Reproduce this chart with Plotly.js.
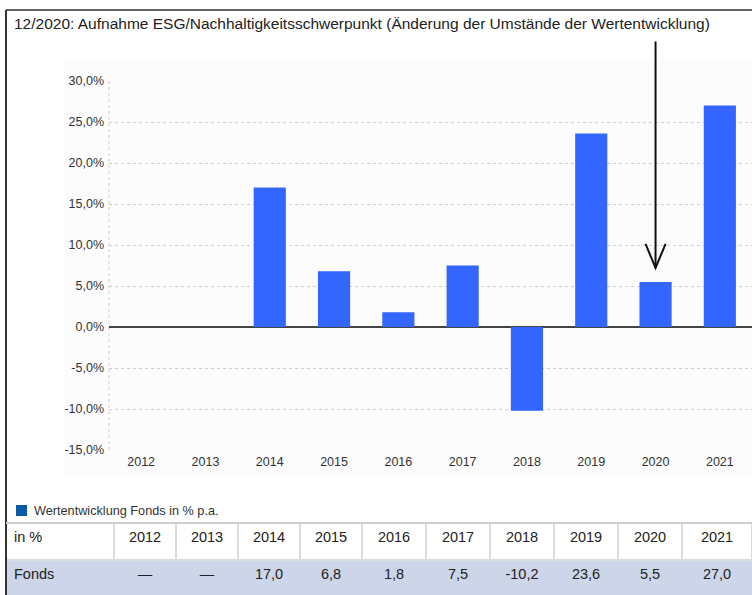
<!DOCTYPE html>
<html>
<head>
<meta charset="utf-8">
<script src="https://cdn.plot.ly/plotly-3.0.1.min.js"></script>
<style>html,body{margin:0;padding:0;background:#fff;}#chart{width:752px;height:595px;}</style>
</head>
<body>
<div id="chart"></div>
<script>
// ---- data ----
const years = ['2012','2013','2014','2015','2016','2017','2018','2019','2020','2021'];
const fonds = [null, null, 17.0, 6.8, 1.8, 7.5, -10.2, 23.6, 5.5, 27.0];
const yTickVals = [-15, -10, -5, 0, 5, 10, 15, 20, 25, 30];
const yTickText = ['-15,0%','-10,0%','-5,0%','0,0%','5,0%','10,0%','15,0%','20,0%','25,0%','30,0%'];
const titleText = '12/2020: Aufnahme ESG/Nachhaltigkeitsschwerpunkt (Änderung der Umstände der Wertentwicklung)';
const legendText = 'Wertentwicklung Fonds in % p.a.';
const tableHeadLabel = 'in %';
const tableRowLabel = 'Fonds';
const markerYear = '2020';
const markerTipValue = 7.2;

const W = 752, H = 595;
const px = v => v / W;
const py = v => 1 - v / H;
const FONT = 'Liberation Sans, Arial, sans-serif';

const fmt = v => v === null ? '—' : v.toFixed(1).replace('.', ',');

const barTrace = {
  type: 'bar',
  x: years,
  y: fonds,
  width: 0.5,
  marker: {color: '#3366ff'},
  hoverinfo: 'skip',
  showlegend: false,
  xaxis: 'x', yaxis: 'y'
};

const tableTrace = {
  type: 'table',
  domain: {x: [px(6), 1], y: [0, py(523)]},
  columnwidth: [108, 62, 62, 62, 62, 64, 64, 64, 64, 64, 70],
  header: {
    values: [tableHeadLabel].concat(years),
    align: ['left'].concat(years.map(() => 'center')),
    fill: {color: '#ffffff'},
    line: {color: '#dcdcdc', width: 2},
    font: {family: FONT, size: 14.5, color: '#222'},
    height: 37
  },
  cells: {
    values: [[tableRowLabel]].concat(fonds.map(v => [fmt(v)])),
    align: ['left'].concat(years.map(() => 'center')),
    fill: {color: '#cdd5e8'},
    line: {color: '#cdd5e8', width: 2},
    font: {family: FONT, size: 14.5, color: '#222'},
    height: 35
  }
};

const layout = {
  width: W, height: H, autosize: false,
  margin: {l: 0, r: 0, t: 0, b: 0},
  paper_bgcolor: '#ffffff',
  plot_bgcolor: 'rgba(0,0,0,0)',
  font: {family: FONT, color: '#333'},
  showlegend: false,
  xaxis: {
    domain: [px(109), 1],
    type: 'category',
    categoryorder: 'array',
    categoryarray: years,
    range: [-0.5, years.length - 0.5],
    autorange: false,
    showgrid: false,
    zeroline: false,
    showline: false,
    ticks: '',
    ticklabelstandoff: 2,
    tickfont: {family: FONT, size: 12.5, color: '#333'},
    fixedrange: true
  },
  yaxis: {
    domain: [py(450), py(81)],
    range: [-15, 30],
    autorange: false,
    tickvals: yTickVals,
    ticktext: yTickText,
    showgrid: true,
    gridcolor: '#cfcfcf',
    griddash: 'dot',
    gridwidth: 1,
    zeroline: true,
    zerolinecolor: '#444',
    zerolinewidth: 2,
    showline: false,
    ticks: '',
    ticklabelstandoff: 4,
    tickfont: {family: FONT, size: 12.5, color: '#333'},
    fixedrange: true
  },
  shapes: [
    // faint background panel
    {type: 'rect', xref: 'paper', yref: 'paper', x0: px(65), x1: 1, y0: py(477), y1: py(61),
     fillcolor: '#fcfcfc', line: {width: 0}, layer: 'below'},
    // dotted y axis line
    {type: 'line', xref: 'x domain', yref: 'y domain', x0: 0, x1: 0, y0: 0, y1: 1,
     line: {color: '#cfcfcf', width: 1, dash: 'dot'}, layer: 'below'},
    // outer frame
    {type: 'line', xref: 'paper', yref: 'paper', x0: px(6), x1: px(6), y0: 0, y1: py(10),
     line: {color: '#333', width: 2}},
    {type: 'line', xref: 'paper', yref: 'paper', x0: px(6), x1: 1, y0: py(10), y1: py(10),
     line: {color: '#333', width: 1.5}},
    // table top line
    {type: 'line', xref: 'paper', yref: 'paper', x0: px(6), x1: 1, y0: py(523), y1: py(523),
     line: {color: '#d0d0d0', width: 2}},
    // legend swatch
    {type: 'rect', xref: 'paper', yref: 'paper', x0: px(16), x1: px(27), y0: py(516), y1: py(505),
     fillcolor: '#0b5aa6', line: {width: 0}},
    // open arrow head at the 2020 bar
    {type: 'path', xref: 'x', yref: 'y', xsizemode: 'pixel', ysizemode: 'pixel',
     xanchor: years.indexOf(markerYear), yanchor: markerTipValue,
     path: 'M-10,24 L0,0 L10,24',
     line: {color: '#111', width: 2}}
  ],
  annotations: [
    {text: titleText, xref: 'paper', yref: 'paper', x: px(12), y: py(24),
     xanchor: 'left', yanchor: 'middle', showarrow: false,
     font: {family: FONT, size: 15.5, color: '#222'}},
    {text: legendText, xref: 'paper', yref: 'paper', x: px(32), y: py(511),
     xanchor: 'left', yanchor: 'middle', showarrow: false,
     font: {family: FONT, size: 12.7, color: '#333'}},
    // arrow shaft (not clipped to the plot area)
    {text: '', xref: 'x', yref: 'y', x: years.indexOf(markerYear), y: markerTipValue,
     showarrow: true, arrowhead: 0, arrowwidth: 2, arrowcolor: '#111',
     axref: 'pixel', ayref: 'pixel', ax: 0, ay: -228, standoff: 0, startstandoff: 0}
  ]
};

Plotly.newPlot('chart', [barTrace, tableTrace], layout, {displayModeBar: false, staticPlot: true});
</script>
</body>
</html>
